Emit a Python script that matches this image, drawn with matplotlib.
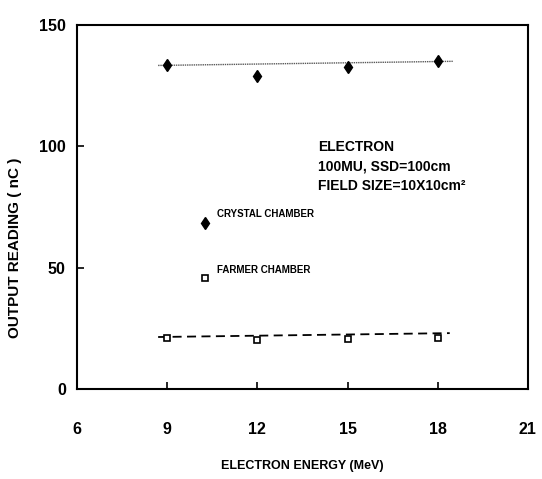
import numpy as np
import matplotlib.pyplot as plt

plt.rcParams['font.family'] = ['Liberation Sans', 'DejaVu Sans']

# measured points
energy = [9, 12, 15, 18]
crystal = [133.3, 128.8, 132.5, 135.0]
farmer = [21.0, 20.2, 20.6, 21.0]

# fitted lines drawn in the original (end points)
crystal_fit_x = [8.7, 18.5]
crystal_fit_y = [133.3, 135.0]
farmer_fit_x = [8.7, 18.4]
farmer_fit_y = [21.4, 23.0]

# legend-like markers placed inside the plot
legend_x = [10.25, 10.25]
legend_y = [68.5, 45.7]
legend_labels = ["CRYSTAL CHAMBER", "FARMER CHAMBER"]

xticks = [6, 9, 12, 15, 18, 21]
yticks = [0, 50, 100, 150]

fig = plt.figure(figsize=(5.42, 4.79), dpi=100)
ax = fig.add_axes([0.142, 0.188, 0.832, 0.760])

ax.plot(crystal_fit_x, crystal_fit_y, color="0.35", lw=1.0, ls=(0, (1, 0.6)))
ax.plot(farmer_fit_x, farmer_fit_y, color="black", lw=1.3, ls=(0, (5, 3)))
ax.plot(energy, crystal, ls="none", marker="d", ms=6.5, mfc="black", mec="black")
ax.plot(energy, farmer, ls="none", marker="s", ms=4, mfc="white", mec="black", mew=1.2)

ax.plot(legend_x[0], legend_y[0], ls="none", marker="d", ms=6.5, mfc="black", mec="black")
ax.plot(legend_x[1], legend_y[1], ls="none", marker="s", ms=4, mfc="white", mec="black", mew=1.2)
for y, lab in zip([legend_y[0] + 3.5, legend_y[1] + 3.5], legend_labels):
    ax.text(10.65, y, lab, fontsize=7, fontweight="bold", va="center", ha="left")

ax.text(14.03, 102.5, "ELECTRON\n100MU, SSD=100cm\nFIELD SIZE=10X10cm\u00b2",
        fontsize=10, fontweight="bold", va="top", ha="left", linespacing=1.5)

ax.set_xlim(6, 21)
ax.set_ylim(0, 150)
ax.set_xticks(xticks)
ax.set_yticks(yticks)
ax.tick_params(direction="in", length=5, width=1.2, labelsize=11.5)
ax.tick_params(axis="x", pad=24)
ax.tick_params(axis="y", pad=8)
for lab in ax.get_xticklabels() + ax.get_yticklabels():
    lab.set_fontweight("bold")
for sp in ax.spines.values():
    sp.set_linewidth(1.5)

ax.set_ylabel("OUTPUT READING ( nC )", fontsize=11, fontweight="bold")
ax.yaxis.set_label_coords(-0.122, 0.387)
ax.set_xlabel("ELECTRON ENERGY (MeV)", fontsize=9, fontweight="bold", labelpad=16)

fig.savefig("out.png", dpi=100)
